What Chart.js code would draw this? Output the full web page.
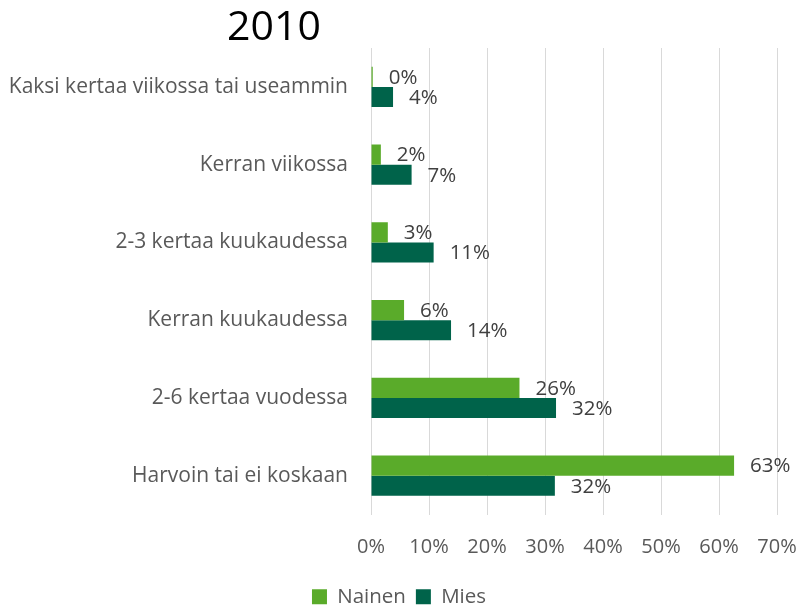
<!DOCTYPE html>
<html>
<head>
<meta charset="utf-8">
<script src="https://cdn.jsdelivr.net/npm/chart.js@4.4.1/dist/chart.umd.min.js"></script>
<style>
html,body{margin:0;padding:0;background:#fff;}
#wrap{width:798px;height:607px;position:relative;}
</style>
</head>
<body>
<div id="wrap"><canvas id="c" width="798" height="607"></canvas></div>
<script>
const categories = ["Kaksi kertaa viikossa tai useammin","Kerran viikossa","2-3 kertaa kuukaudessa","Kerran kuukaudessa","2-6 kertaa vuodessa","Harvoin tai ei koskaan"];
const nainen = [0.3, 1.7, 2.9, 5.7, 25.6, 62.6];
const mies = [3.8, 7.0, 10.8, 13.8, 31.9, 31.7];
const nainenLabels = ["0%","2%","3%","6%","26%","63%"];
const miesLabels = ["4%","7%","11%","14%","32%","32%"];
const xTicks = [0,10,20,30,40,50,60,70];
const titleText = "2010";

const FONT = "'Open Sans', sans-serif";

const labelPlugin = {
  id: 'barLabels',
  afterDatasetsDraw(chart) {
    const ctx = chart.ctx;
    ctx.save();
    ctx.font = "20.5px " + FONT;
    ctx.fillStyle = "#404040";
    ctx.textAlign = "left";
    ctx.textBaseline = "middle";
    chart.data.datasets.forEach((ds, di) => {
      const meta = chart.getDatasetMeta(di);
      meta.data.forEach((el, i) => {
        ctx.fillText(ds.labelsText[i], el.x + 16, el.y + 1);
      });
    });
    ctx.restore();
  }
};

const titlePlugin = {
  id: 'customTitle',
  afterDraw(chart) {
    const ctx = chart.ctx;
    ctx.save();
    ctx.font = "41px " + FONT;
    ctx.fillStyle = "#000000";
    ctx.textAlign = "center";
    ctx.textBaseline = "alphabetic";
    ctx.fillText(titleText, 274, 40);
    ctx.restore();
  }
};

new Chart(document.getElementById('c'), {
  type: 'bar',
  data: {
    labels: categories,
    datasets: [
      { label: 'Nainen', data: nainen, labelsText: nainenLabels, backgroundColor: '#5aab2a', categoryPercentage: 0.52, barPercentage: 1.0 },
      { label: 'Mies', data: mies, labelsText: miesLabels, backgroundColor: '#00634a', categoryPercentage: 0.52, barPercentage: 1.0 }
    ]
  },
  options: {
    indexAxis: 'y',
    responsive: false,
    animation: false,
    layout: { padding: { top: 48, left: 0, right: 0, bottom: -10 } },
    plugins: {
      legend: {
        position: 'bottom',
        labels: { font: { family: FONT, size: 20.5 }, color: '#595959', boxWidth: 15, boxHeight: 15, padding: 10 }
      },
      tooltip: { enabled: false },
      title: { display: false }
    },
    scales: {
      x: {
        min: 0, max: 70,
        afterBuildTicks(scale) { scale.ticks = xTicks.map(v => ({ value: v })); },
        afterFit(scale) { scale.height = 62; scale.paddingRight = 21; scale.paddingLeft = 0; },
        grid: { color: '#d9d9d9', lineWidth: 1, drawTicks: false },
        border: { display: false },
        ticks: { callback: v => v + '%', font: { family: FONT, size: 20 }, color: '#595959', padding: 21 }
      },
      y: {
        afterFit(scale) { scale.width = 371; },
        grid: { display: false, drawTicks: false },
        border: { display: false },
        ticks: { font: { family: FONT, size: 21 }, color: '#595959', padding: 23 }
      }
    }
  },
  plugins: [labelPlugin, titlePlugin]
});
</script>
</body>
</html>
